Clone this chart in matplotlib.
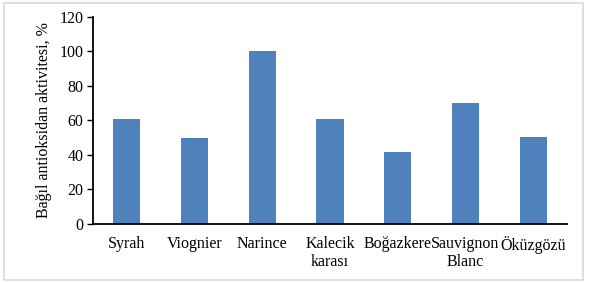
import matplotlib
matplotlib.use("Agg")
import matplotlib.pyplot as plt
from matplotlib.patches import Rectangle

categories = ["Syrah", "Viognier", "Narince", "Kalecik\nkarası", "Boğazkere", "Sauvignon\nBlanc", "Öküzgözü"]
values = [61, 50, 100, 61, 42, 70, 50.5]
yticks = [0, 20, 40, 60, 80, 100, 120]

plt.rcParams['font.family'] = ['Liberation Serif', 'DejaVu Serif']
fig = plt.figure(figsize=(5.94, 2.83), dpi=100)
fig.patches.append(Rectangle((0.006, 0.01), 0.976, 0.978, transform=fig.transFigure,
                             fill=False, edgecolor='#d9d9d9', linewidth=1.2))
ax = fig.add_axes([0.1566, 0.2085, 0.798, 0.7315])
x = range(len(categories))
ax.bar(x, values, width=0.4, color='#4F81BD')
ax.set_xlim(-0.5, len(categories) - 0.5)
ax.set_ylim(0, 120)
ax.set_yticks(yticks)
ax.set_xticks(list(x))
ax.set_xticklabels(categories, fontsize=11.5, linespacing=1.15)
ax.tick_params(axis='x', length=0, pad=9)
ax.tick_params(axis='y', length=4, width=1, labelsize=11.5, pad=3)
for s in ['top', 'right']:
    ax.spines[s].set_visible(False)
ax.spines['left'].set_linewidth(1.3)
ax.spines['bottom'].set_linewidth(1.3)
ax.set_ylabel("Bağıl antioksidan aktivitesi, %", fontsize=11.5, labelpad=5)
fig.savefig("out.png", dpi=100)
